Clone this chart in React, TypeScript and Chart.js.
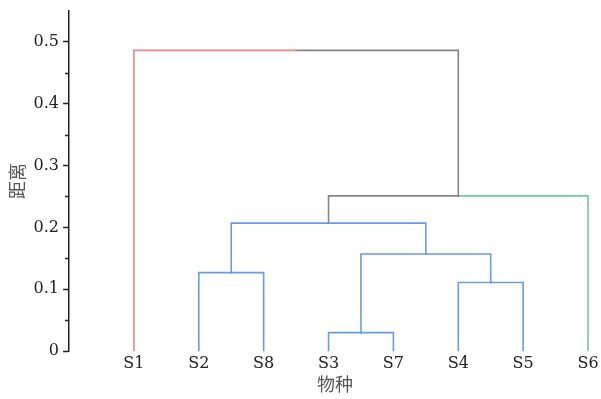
import React, { useEffect, useRef } from "react";
import { Chart, registerables } from "chart.js";

Chart.register(...registerables);

// Leaves in dendrogram order
const leaves = ["S1", "S2", "S8", "S3", "S7", "S4", "S5", "S6"];
// Merge steps: node ids 0..7 are leaves, new clusters get ids 8, 9, ...
const linkLeft = [3, 5, 1, 8, 10, 12, 0];
const linkRight = [4, 6, 2, 9, 11, 7, 13];
const linkHeight = [0.03, 0.111, 0.127, 0.157, 0.207, 0.251, 0.486];
const leftColor = ["blue", "blue", "blue", "blue", "blue", "grey", "red"];
const rightColor = ["blue", "blue", "blue", "blue", "blue", "green", "grey"];

const yTicks = [0, 0.1, 0.2, 0.3, 0.4, 0.5];
const yMinorTicks = [0.05, 0.15, 0.25, 0.35, 0.45];

const palette: Record<string, string> = {
  red: "#ef8686",
  blue: "#6a9be2",
  green: "#72cb98",
  grey: "#858585",
};

function buildDatasets() {
  const nodeX: number[] = leaves.map((_, i) => i + 1);
  const nodeY: number[] = leaves.map(() => 0);
  const datasets: any[] = [];
  for (let k = 0; k < linkLeft.length; k++) {
    const l = linkLeft[k];
    const r = linkRight[k];
    const h = linkHeight[k];
    const mid = (nodeX[l] + nodeX[r]) / 2;
    datasets.push({
      data: [
        { x: nodeX[l], y: nodeY[l] },
        { x: nodeX[l], y: h },
        { x: mid, y: h },
      ],
      borderColor: palette[leftColor[k]],
    });
    datasets.push({
      data: [
        { x: mid, y: h },
        { x: nodeX[r], y: h },
        { x: nodeX[r], y: nodeY[r] },
      ],
      borderColor: palette[rightColor[k]],
    });
    nodeX.push(mid);
    nodeY.push(h);
  }
  return datasets.map((d) => ({
    ...d,
    showLine: true,
    borderWidth: 1.6,
    pointRadius: 0,
    fill: false,
    tension: 0,
    borderCapStyle: "square",
  }));
}

const minorTickPlugin = {
  id: "minorTicks",
  afterDraw(chart: any) {
    const y = chart.scales.y;
    const ctx = chart.ctx;
    const x0 = y.right;
    ctx.save();
    ctx.strokeStyle = "#222";
    ctx.lineWidth = 1.5;
    ctx.beginPath();
    for (const v of yMinorTicks) {
      const py = Math.round(y.getPixelForValue(v)) + 0.5;
      ctx.moveTo(x0 - 4, py);
      ctx.lineTo(x0, py);
    }
    ctx.stroke();
    ctx.restore();
  },
};

export default function App() {
  const ref = useRef<HTMLCanvasElement | null>(null);
  useEffect(() => {
    if (!ref.current) return;
    const chart = new Chart(ref.current, {
      type: "scatter",
      data: { datasets: buildDatasets() },
      options: {
        animation: false,
        responsive: false,
        layout: { padding: { left: 6, right: 0, top: 2, bottom: 4 } },
        plugins: {
          legend: { display: false },
          tooltip: { enabled: false },
        },
        scales: {
          x: {
            type: "linear",
            min: 0,
            max: 8.2,
            border: { display: false },
            grid: { display: false },
            ticks: {
              stepSize: 1,
              autoSkip: false,
              includeBounds: false,
              maxRotation: 0,
              padding: -5,
              color: "#222",
              font: { family: "DejaVu Serif", size: 16 },
              callback: (v: any) => {
                const i = Math.round(Number(v)) - 1;
                return i >= 0 && i < leaves.length && Math.abs(Number(v) - i - 1) < 1e-6 ? leaves[i] : "";
              },
            },
            title: {
              display: true,
              text: "物种",
              color: "#555",
              padding: { top: 5, bottom: 0 },
              font: { family: "Noto Sans CJK SC", size: 18 },
            },
          },
          y: {
            type: "linear",
            min: 0,
            max: 0.55,
            afterBuildTicks: (axis: any) => {
              axis.ticks = yTicks.map((v) => ({ value: v }));
            },
            border: { display: true, color: "#222", width: 1.5 },
            grid: {
              display: true,
              drawOnChartArea: false,
              drawTicks: true,
              tickLength: 6,
              tickColor: "#222",
              tickWidth: 1.5,
            },
            ticks: {
              color: "#222",
              padding: 4,
              font: { family: "DejaVu Serif", size: 16, lineHeight: 0.85 },
              callback: (v: any) => String(Math.round(Number(v) * 10) / 10),
            },
            title: {
              display: true,
              text: "距离",
              color: "#555",
              padding: { top: 0, bottom: 2 },
              font: { family: "Noto Sans CJK SC", size: 18 },
            },
          },
        },
      },
      plugins: [minorTickPlugin],
    } as any);
    return () => chart.destroy();
  }, []);
  return (
    <div style={{ position: "fixed", left: 0, top: 0, width: 601, height: 399, background: "#fff" }}>
      <canvas ref={ref} width={601} height={399} style={{ width: 601, height: 399, display: "block" }} />
    </div>
  );
}
